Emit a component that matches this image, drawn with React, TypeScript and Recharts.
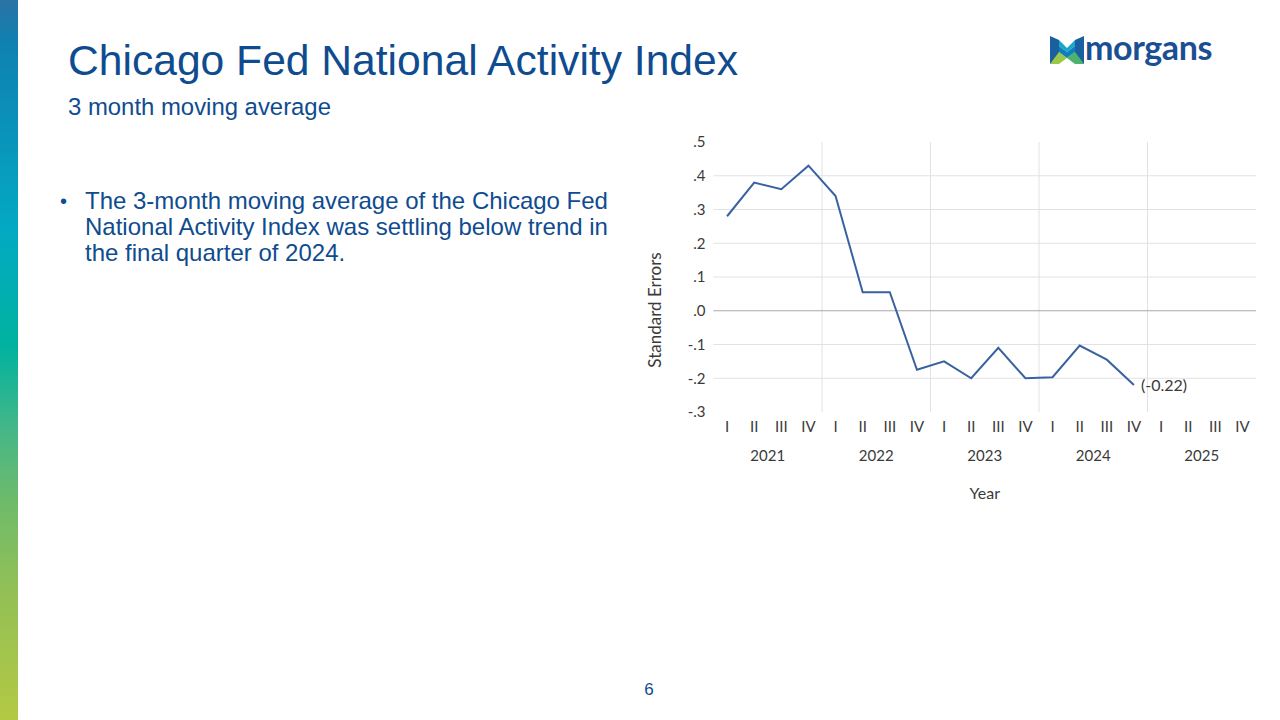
import React from "react";
import {
  LineChart,
  Line,
  XAxis,
  YAxis,
  ReferenceLine,
  LabelList,
} from "recharts";

const YEARS = [2021, 2022, 2023, 2024, 2025];
const QUARTERS = ["I", "II", "III", "IV"];
// Chicago Fed NAI, 3-month moving average, 2021 Q1 .. 2024 Q4
const CFNAI_MA3 = [
  0.28, 0.38, 0.36, 0.43,
  0.34, 0.055, 0.055, -0.175,
  -0.15, -0.2, -0.11, -0.2,
  -0.197, -0.103, -0.145, -0.22,
];
const Y_TICKS = [-0.3, -0.2, -0.1, 0, 0.1, 0.2, 0.3, 0.4, 0.5];
const Y_GRID = [-0.2, -0.1, 0.1, 0.2, 0.3, 0.4];

const NQ = QUARTERS.length;
const SLOTS = YEARS.length * NQ;
const QUARTER_TICKS = Array.from({ length: SLOTS }, (_, i) => i + 0.5);
const YEAR_TICKS = YEARS.map((_, i) => i * NQ + NQ / 2);
const YEAR_BOUNDS = YEARS.slice(1).map((_, i) => (i + 1) * NQ);

const data = CFNAI_MA3.map((v, i) => ({ x: i + 0.5, v }));

const BLUE = "#0f4c8f";
const LINE = "#3a62a0";
const GRID = "#e2e2e2";
const AXIS_TEXT = "#3a3a3a";
const TICK = { fill: AXIS_TEXT, fontSize: 15, fontFamily: "Lato" };

const fmtY = (v: number) =>
  (v < 0 ? "-" : "") + Math.abs(v).toFixed(1).replace(/^0/, "");

function LastLabel(props: any) {
  const { x, y, index, value } = props;
  if (index !== data.length - 1) return null;
  return (
    <text x={x + 7} y={y + 6} fill={AXIS_TEXT} fontSize={16} fontFamily="Lato">
      ({value.toFixed(2)})
    </text>
  );
}

function YTitle(props: any) {
  const vb = props.viewBox;
  const cx = vb.x + 17;
  // title sits centred on the whole chart box, a bit below the plot middle
  const cy = vb.y + vb.height / 2 + 33;
  return (
    <text
      x={cx}
      y={cy}
      transform={`rotate(-90 ${cx} ${cy})`}
      textAnchor="middle"
      dominantBaseline="middle"
      fill={AXIS_TEXT}
      fontSize={17}
      fontFamily="Lato"
    >
      Standard Errors
    </text>
  );
}

function Logo() {
  return (
    <div style={{ position: "absolute", left: 1050, top: 36, display: "flex", alignItems: "center" }}>
      <svg width={34} height={28} viewBox="0 0 34 28">
        <polygon points="0,0 9,4 9,24 0,28" fill="#1a5fa0" />
        <polygon points="34,0 25,4 25,24 34,28" fill="#1a5fa0" />
        <polygon points="9,4 17,12 25,4 25,10 17,16 9,10" fill="#17a8c9" />
        <polygon points="0,28 9,16 17,22 9,28" fill="#9cc84a" />
        <polygon points="34,28 25,16 17,22 25,28" fill="#4db36b" />
        <polygon points="9,10 17,16 25,10 25,16 17,22 9,16" fill="#0f7fb8" />
      </svg>
      <span
        style={{
          marginLeft: 1,
          fontFamily: "Lato",
          fontWeight: 700,
          fontSize: 34,
          color: "#1b4f93",
          letterSpacing: -0.4,
          lineHeight: "34px",
          marginTop: -6,
        }}
      >
        morgans
      </span>
    </div>
  );
}

export default function App() {
  return (
    <div
      style={{
        position: "absolute",
        left: 0,
        top: 0,
        width: 1280,
        height: 720,
        background: "#fff",
        overflow: "hidden",
        fontFamily: "'Liberation Sans', Arial, sans-serif",
      }}
    >
      <div
        style={{
          position: "absolute",
          left: 0,
          top: 0,
          width: 18,
          height: 720,
          background:
            "linear-gradient(to bottom, #2b72a6 0%, #0f82b1 6%, #0a93ba 18%, #03a9c3 32%, #00b29f 48%, #47b787 60%, #6fbb69 70%, #92c056 82%, #b3c944 100%)",
        }}
      />
      <div
        style={{
          position: "absolute",
          left: 68,
          top: 39,
          fontSize: 42.6,
          lineHeight: "42px",
          color: BLUE,
          whiteSpace: "nowrap",
        }}
      >
        Chicago Fed National Activity Index
      </div>
      <div
        style={{
          position: "absolute",
          left: 68,
          top: 95,
          fontSize: 23.9,
          lineHeight: "23.5px",
          color: BLUE,
          whiteSpace: "nowrap",
        }}
      >
        3 month moving average
      </div>
      <Logo />
      <div
        style={{
          position: "absolute",
          left: 60,
          top: 188,
          width: 580,
          fontSize: 24,
          lineHeight: "26px",
          color: BLUE,
          whiteSpace: "nowrap",
        }}
      >
        <span style={{ position: "absolute", left: 0, top: 0, fontSize: 20 }}>•</span>
        <div style={{ marginLeft: 25 }}>
          The 3-month moving average of the Chicago Fed
          <br />
          National Activity Index was settling below trend in
          <br />
          the final quarter of 2024.
        </div>
      </div>

      <div style={{ position: "absolute", left: 640, top: 130 }}>
        <LineChart
          width={630}
          height={390}
          data={data}
          margin={{ top: 12, right: 14, bottom: 8, left: 0 }}
        >
          <XAxis
            xAxisId="q"
            type="number"
            dataKey="x"
            domain={[0, SLOTS]}
            ticks={QUARTER_TICKS}
            interval={0}
            tickFormatter={(v: number) => QUARTERS[Math.floor(v) % NQ]}
            axisLine={false}
            tickLine={false}
            tick={TICK}
            tickMargin={3}
            height={30}
          />
          <XAxis
            xAxisId="yr"
            type="number"
            dataKey="x"
            domain={[0, SLOTS]}
            ticks={YEAR_TICKS}
            interval={0}
            tickFormatter={(v: number) => String(YEARS[Math.floor(v / NQ)])}
            axisLine={false}
            tickLine={false}
            tick={TICK}
            height={70}
            label={{
              value: "Year",
              position: "insideBottom",
              offset: 13,
              fill: AXIS_TEXT,
              fontSize: 16,
              fontFamily: "Lato",
            }}
          />
          <YAxis
            type="number"
            domain={[-0.3, 0.5]}
            ticks={Y_TICKS}
            interval={0}
            tickFormatter={fmtY}
            axisLine={false}
            tickLine={false}
            tick={TICK}
            width={73.5}
            label={{ content: YTitle }}
          />
          {Y_GRID.map((g) => (
            <ReferenceLine key={`h${g}`} xAxisId="q" y={g} stroke={GRID} strokeWidth={1} />
          ))}
          {YEAR_BOUNDS.map((b) => (
            <ReferenceLine key={`v${b}`} xAxisId="q" x={b} stroke={GRID} strokeWidth={1} />
          ))}
          <ReferenceLine xAxisId="q" y={0} stroke="#a9a9a9" strokeWidth={1} />
          <Line
            xAxisId="q"
            type="linear"
            dataKey="v"
            stroke={LINE}
            strokeWidth={2}
            dot={false}
            activeDot={false}
            isAnimationActive={false}
          >
            <LabelList dataKey="v" content={LastLabel} />
          </Line>
        </LineChart>
      </div>

      <div
        style={{
          position: "absolute",
          left: 640,
          top: 681,
          width: 18,
          textAlign: "center",
          fontSize: 17,
          lineHeight: "17px",
          color: BLUE,
        }}
      >
        6
      </div>
    </div>
  );
}
